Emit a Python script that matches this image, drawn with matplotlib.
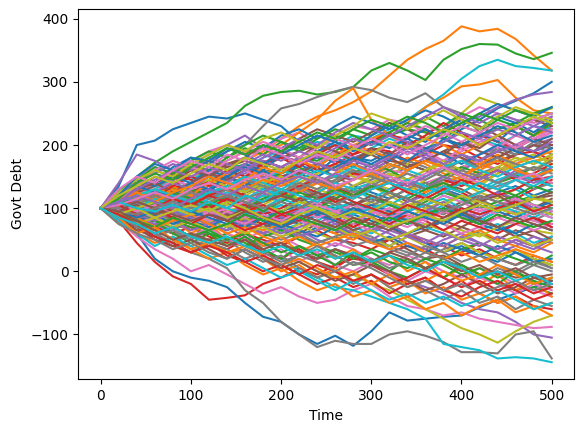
import numpy as np
import matplotlib
matplotlib.use("Agg")
import matplotlib.pyplot as plt

plt.rcParams['font.size'] = 10

times = list(range(0, 501, 20))

paths = [
    [100,135,200,207,225,235,245,242,250,240,230,205,190,200,180,175,190,170,160,175,185,170,180,195,190,200],
    [100,115,130,125,140,150,160,170,175,190,210,230,245,255,268,285,310,335,352,365,388,380,384,368,342,318],
    [100,118,150,172,190,205,220,235,262,278,284,286,280,284,292,318,330,318,303,335,352,360,359,345,336,346],
    [100,80,45,15,-8,-20,-45,-42,-38,-20,-10,5,-5,10,20,15,30,40,35,20,30,45,35,50,40,55],
    [100,140,185,175,160,170,185,200,215,195,180,175,190,170,155,160,150,165,180,170,160,175,190,200,215,230],
    [100,125,130,120,140,150,135,145,160,150,140,155,165,150,145,160,175,170,160,150,165,175,190,180,170,185],
    [100,120,150,165,155,175,190,200,185,195,210,220,200,215,230,225,240,235,220,230,245,260,250,240,235,245],
    [100,110,125,140,150,160,175,190,200,230,258,265,276,285,292,287,275,268,282,260,250,220,205,190,200,185],
    [100,95,105,90,85,100,110,95,90,105,120,110,100,115,130,140,150,170,190,220,250,275,265,255,250,258],
    [100,115,120,135,150,145,160,170,165,180,190,195,205,200,215,210,225,240,260,280,305,325,335,325,322,318],
    [100,85,60,20,0,-10,-15,-25,-50,-72,-80,-100,-115,-102,-118,-95,-65,-78,-75,-72,-70,-57,-45,-35,-25,-15],
    [100,120,140,135,150,165,160,175,190,185,200,220,240,270,290,240,215,200,190,185,180,170,160,165,175,180],
    [100,90,75,65,70,55,50,60,45,30,40,35,20,25,10,15,0,-10,5,15,10,-5,-20,-30,-25,-35],
    [100,110,95,105,120,115,130,140,125,135,150,160,165,185,195,205,215,210,225,210,200,215,205,195,210,200],
    [100,90,80,95,75,65,80,70,55,40,45,30,20,35,25,10,0,-15,-25,-35,-50,-60,-65,-80,-100,-105],
    [100,105,115,100,90,105,95,85,80,90,70,60,75,65,55,45,50,35,20,25,10,-5,0,-10,-5,-15],
    [100,80,55,35,20,0,10,-5,-20,-35,-25,-40,-50,-45,-30,-20,-40,-55,-60,-70,-65,-75,-80,-85,-90,-88],
    [100,85,70,60,45,30,20,5,-30,-50,-80,-100,-120,-110,-115,-115,-100,-95,-102,-112,-128,-128,-130,-100,-95,-138],
    [100,95,80,70,60,55,60,45,40,30,20,15,0,-10,-5,-20,-30,-45,-60,-75,-90,-100,-113,-95,-80,-70],
    [100,95,85,90,75,70,60,55,40,35,20,0,-10,-25,-30,-40,-50,-60,-75,-115,-120,-125,-138,-136,-138,-144],
    [100,110,120,115,130,140,125,135,150,160,155,170,180,175,165,190,200,210,195,205,225,240,258,270,282,300],
    [100,95,110,120,105,115,130,145,160,150,140,155,170,185,200,210,220,235,260,275,293,296,303,275,255,250],
    [100,115,105,125,140,130,145,160,170,155,165,180,175,190,210,200,215,225,220,210,200,215,225,235,240,250],
    [100,90,85,70,60,70,55,45,60,50,40,55,65,50,45,35,50,60,45,40,25,35,20,10,25,15],
    [100,105,95,110,125,115,130,120,135,150,145,160,170,165,180,190,200,195,210,220,235,245,260,272,280,284],
    [100,100,90,80,95,85,75,90,100,85,75,80,70,60,75,85,70,55,65,80,70,60,50,65,55,45],
    [100,110,125,140,130,120,135,145,130,120,135,150,140,125,135,145,160,155,140,150,165,175,160,170,185,195],
    [100,105,95,85,100,110,100,90,105,120,130,125,140,150,135,145,160,175,165,150,140,155,165,150,145,160],
    [100,110,120,130,115,105,120,135,140,125,115,130,120,110,125,135,120,105,115,130,140,125,115,130,145,135],
    [100,90,100,85,95,80,70,85,95,80,65,75,90,80,70,60,75,85,70,60,50,65,75,60,45,55],
    [100,95,85,100,110,95,80,70,85,75,65,55,70,80,65,50,40,55,45,30,40,25,15,30,20,10],
    [100,115,130,120,110,125,140,130,145,160,150,140,155,170,160,150,165,180,170,155,145,160,175,165,150,140],
    [100,105,120,110,100,90,105,115,100,90,80,95,110,100,85,75,90,100,115,105,90,80,95,110,120,105],
    [100,120,130,140,155,145,135,150,165,170,180,175,160,170,185,195,190,175,185,200,195,180,170,185,190,175],
    [100,85,70,75,60,50,65,75,60,45,55,65,50,40,55,70,60,45,35,50,60,45,30,40,55,45],
    [100,110,115,125,135,125,140,150,140,130,145,155,145,130,120,135,125,110,125,140,130,115,125,110,100,115],
    [100,90,95,80,70,85,75,60,50,65,55,40,30,45,35,20,10,25,15,0,-10,5,-5,-20,-30,-40],
    [100,100,110,95,105,120,110,100,115,105,95,110,120,105,95,110,125,115,100,90,105,115,100,90,80,95],
    [100,110,100,115,125,110,100,115,130,140,125,115,130,145,155,140,130,145,160,170,155,145,160,175,185,170],
    [100,95,80,90,100,90,75,65,80,95,105,90,80,95,110,100,85,75,90,105,95,80,70,85,100,90],
    [100,105,115,105,120,130,120,110,125,135,125,115,105,120,135,125,115,130,140,130,120,110,125,135,120,130],
    [100,90,85,95,80,70,80,90,75,65,75,85,70,60,50,65,75,60,50,40,55,65,50,40,30,45],
    [100,115,125,120,130,140,150,140,130,145,155,165,150,140,155,170,160,145,135,150,165,155,140,150,165,160],
    [100,95,100,90,85,95,105,95,85,75,85,95,105,115,105,95,85,95,105,95,85,75,85,95,85,75],
    [100,110,105,115,110,120,130,145,155,170,160,175,185,180,170,160,175,190,180,165,175,185,195,185,200,210],
    [100,90,80,90,100,110,100,90,80,70,80,90,100,95,105,115,105,95,85,95,110,120,110,100,115,120],
    [100,105,120,135,125,140,155,150,165,175,165,155,170,160,150,165,180,195,185,175,190,205,215,200,210,220],
    [100,95,85,75,65,80,90,80,70,60,50,60,45,55,65,55,40,30,20,35,45,30,20,10,20,5],
    [100,105,95,100,110,100,90,95,105,115,125,115,100,90,100,110,95,85,100,110,120,105,95,105,120,110],
    [100,105,110,100,115,130,120,135,145,130,120,135,125,115,130,140,155,145,130,140,150,165,175,160,150,165],
    [100,110,100,95,105,115,125,115,105,95,85,75,90,100,90,80,70,60,70,80,90,75,65,75,85,70],
    [100,95,105,115,105,95,105,120,110,100,115,130,140,125,115,130,145,135,125,140,150,140,155,170,180,190],
    [100,90,80,70,80,70,60,50,40,55,65,50,40,30,20,35,25,15,5,20,35,45,30,20,10,25],
    [100,105,115,125,135,130,120,110,125,140,150,135,125,140,155,150,140,130,120,135,125,110,100,115,130,145],
    [100,95,90,80,95,105,90,80,70,60,70,85,75,90,100,85,95,110,120,105,95,110,125,115,100,90],
    [100,115,125,135,145,160,150,165,175,165,180,190,200,190,175,185,170,160,175,190,180,165,175,185,200,195],
    [100,95,110,120,110,95,85,100,115,105,90,100,110,95,80,90,100,85,75,65,80,95,105,90,80,70],
    [100,110,95,105,95,85,95,105,120,110,125,135,120,110,95,105,115,130,140,130,115,125,135,145,130,140],
    [100,90,95,85,75,85,95,110,100,85,95,105,90,80,70,85,95,105,90,75,65,55,70,80,65,60],
    [100,110,120,105,95,110,125,115,105,120,110,100,115,125,110,95,105,120,135,120,110,125,140,130,115,125],
    [100,120,105,130,115,140,125,150,135,160,145,170,155,180,165,190,175,200,185,210,195,220,205,230,215,240],
    [100,80,95,70,85,60,75,50,65,40,55,30,45,20,35,10,25,0,15,-10,5,-20,-5,-30,-15,-40],
    [100,125,140,160,150,170,160,180,195,185,205,195,215,205,225,215,235,225,245,230,250,240,225,235,250,260],
    [100,85,75,60,70,55,45,35,50,30,20,35,15,5,25,10,-5,-20,-10,-30,-15,-35,-50,-40,-55,-60],
    [100,105,90,110,95,115,100,120,105,125,110,130,115,135,120,140,125,145,130,150,135,155,140,160,145,165],
    [100,110,130,150,140,160,175,165,180,200,190,210,225,215,205,220,235,225,210,225,240,230,215,225,240,230],
    [100,95,75,85,65,55,70,50,40,25,35,15,30,10,0,15,-5,-15,0,-10,-25,-10,-20,-35,-20,-30],
    [100,110,115,105,120,110,125,115,135,125,145,135,150,140,160,150,170,160,175,165,185,175,195,185,205,195],
    [100,90,105,90,80,95,80,70,85,70,60,75,60,50,65,50,40,55,40,30,45,30,20,35,20,10],
    [100,120,110,130,145,135,155,140,125,145,160,150,170,185,175,195,210,200,190,205,220,210,200,215,230,225],
    [100,85,95,105,90,80,70,85,100,90,75,65,55,70,60,45,55,40,30,45,35,25,40,30,15,20],
    [100,115,100,120,135,120,105,125,140,155,140,125,140,155,170,155,140,160,175,165,150,170,185,170,160,175],
    [100,90,70,80,60,45,60,40,55,35,20,40,25,10,30,15,0,20,5,-10,10,-5,-20,0,-15,-25],
    [100,105,125,115,135,150,140,160,150,170,180,165,185,200,185,205,220,200,215,235,220,200,215,230,215,235],
    [100,95,100,110,95,85,100,90,105,95,85,100,90,75,90,105,95,80,95,110,95,85,100,115,100,110],
    [100,110,90,100,85,95,105,90,75,85,70,80,95,80,65,75,90,80,65,55,70,85,70,55,65,50],
    [100,120,135,125,145,135,155,170,160,145,165,180,170,190,180,165,185,200,190,175,195,210,195,215,205,220],
    [100,95,85,95,80,90,75,65,75,60,70,55,45,55,40,50,35,25,40,30,15,25,10,0,15,5],
    [100,105,115,100,110,125,115,105,120,135,125,140,130,120,135,150,140,125,145,160,150,135,155,170,160,180],
    [100,90,80,90,100,85,95,110,100,90,105,95,85,100,110,100,90,75,85,100,90,80,95,105,95,85],
    [100,120,145,135,150,140,160,150,170,160,185,170,190,205,195,215,230,215,205,225,240,225,245,235,220,240],
    [100,80,65,70,50,40,50,30,35,20,0,10,-10,5,-15,-5,-25,-15,-35,-25,-45,-35,-50,-40,-60,-50],
    [100,110,120,105,115,130,120,110,100,115,125,110,100,115,130,120,105,95,110,125,115,100,110,120,105,100],
    [100,100,90,105,95,110,100,115,105,90,100,115,125,110,120,135,125,140,130,145,135,150,160,145,155,170],
    [100,90,85,75,80,65,75,85,70,60,70,55,65,75,60,50,65,55,45,60,50,40,55,45,35,50],
    [100,115,130,140,125,140,155,145,160,175,165,155,170,160,175,190,180,165,175,190,205,190,180,195,210,200],
    [100,95,110,95,100,90,80,95,85,100,90,80,70,85,75,65,80,70,85,75,60,70,85,75,65,75],
    [100,85,70,55,65,50,40,50,30,15,25,5,-10,0,-20,-5,-25,-40,-30,-45,-30,-50,-40,-60,-45,-55],
    [100,105,120,130,120,135,145,135,125,140,150,140,155,165,150,140,155,145,160,175,160,150,165,180,170,185],
    [100,115,105,95,110,100,115,125,115,130,120,110,125,140,130,115,130,145,135,125,140,130,145,155,145,135],
    [100,95,80,90,75,85,95,80,70,85,95,105,90,80,95,105,95,80,90,100,90,105,95,85,100,110],
    [100,110,125,115,130,120,140,155,145,165,155,175,165,185,200,190,180,195,210,200,185,200,215,230,215,225],
    [100,90,95,80,70,55,65,50,60,45,30,40,25,35,20,30,15,5,20,10,-5,5,-10,0,-20,-10],
    [100,105,110,125,115,105,120,130,120,110,120,135,145,135,120,130,140,125,115,130,145,135,120,130,145,150],
    [100,85,90,80,95,85,75,65,80,70,60,70,80,65,55,65,75,60,50,40,55,45,35,50,40,30],
    [100,120,130,140,155,165,150,170,180,170,190,180,200,190,175,195,185,205,195,185,205,195,215,200,190,210],
    [100,100,95,85,95,105,90,100,110,100,90,100,85,95,105,95,85,95,105,120,110,95,105,115,105,95],
    [100,95,105,120,110,125,115,130,115,125,140,130,145,135,125,135,150,140,130,145,160,150,140,155,165,155],
    [100,90,75,85,70,80,65,75,60,70,55,65,80,70,55,65,50,60,75,65,50,60,45,55,40,50],
    [100,110,100,115,105,95,110,100,90,100,115,105,95,105,90,100,110,95,105,115,100,90,105,95,85,100],
    [100,115,135,125,120,140,130,150,165,155,145,160,150,165,180,170,185,175,195,185,170,185,200,190,180,195],
    [100,90,85,70,80,90,75,60,70,55,45,55,40,50,60,45,35,45,30,20,30,15,25,35,25,15],
    [100,105,120,110,125,115,105,120,110,95,110,125,115,130,120,135,125,115,130,140,125,140,130,120,135,125],
    [100,85,90,100,85,75,90,80,65,75,90,80,95,85,70,85,75,90,80,65,80,70,60,75,85,70],
    [100,120,110,125,140,130,150,140,160,175,165,180,170,160,175,165,180,195,185,170,185,175,190,200,190,205],
    [100,95,105,90,100,110,95,85,100,110,120,110,125,115,105,120,110,100,115,105,95,110,120,105,115,125],
    [100,110,95,105,90,80,95,85,75,90,80,95,105,95,80,90,100,90,80,95,85,100,90,80,95,85],
    [100,100,110,100,115,125,115,130,145,135,125,140,130,145,160,150,140,155,145,160,175,165,180,170,160,175],
    [100,90,100,110,100,90,100,85,95,105,95,110,100,90,80,95,110,100,115,105,120,110,100,90,100,90],
    [100,110,120,130,120,110,125,135,150,140,130,145,160,150,165,155,170,160,150,165,175,160,150,165,175,165],
    [100,95,85,95,105,95,85,75,90,80,70,85,95,85,100,90,80,95,85,75,90,80,70,60,75,65],
    [100,115,125,110,125,135,150,140,130,145,135,150,140,130,145,155,170,160,175,165,150,165,175,160,150,160],
    [100,90,80,70,85,75,65,75,90,80,95,85,75,65,80,70,85,75,90,100,85,75,90,80,70,80],
    [100,105,90,100,115,105,120,110,95,105,90,100,115,125,110,100,90,105,95,85,100,90,100,110,95,105],
    [100,110,120,110,100,115,130,120,135,125,140,150,140,155,145,160,145,135,150,165,155,145,160,150,140,150],
    [100,95,110,100,90,80,90,80,95,85,75,90,80,70,85,75,65,80,70,85,95,80,70,85,75,65],
    [100,105,115,125,115,130,140,130,145,155,145,160,150,135,145,160,150,140,155,165,150,140,130,145,155,140],
    [100,95,90,100,110,100,110,120,110,100,110,100,115,105,120,110,125,115,105,95,105,120,110,100,90,100],
    [100,90,100,85,95,105,95,110,100,85,75,90,100,85,95,85,70,80,90,80,95,105,95,105,115,110],
    [100,110,100,95,105,95,110,100,120,110,130,120,110,125,115,130,140,130,120,135,125,140,130,145,135,150],
    [100,125,150,140,165,180,170,190,205,195,215,225,210,230,245,235,225,240,255,245,230,250,265,255,245,260],
    [100,75,60,45,55,35,20,30,10,-5,5,-15,-30,-20,-40,-30,-50,-40,-60,-50,-70,-55,-45,-65,-55,-70],
    [100,130,145,165,155,175,190,180,200,215,205,190,210,225,215,200,220,235,225,210,230,220,240,230,215,235],
    [100,80,70,50,40,30,45,25,15,0,10,-5,-20,-10,-25,-15,-35,-20,-10,-30,-40,-25,-15,-30,-45,-35],
    [100,120,140,155,170,160,180,170,160,180,195,210,200,220,235,225,215,230,245,260,245,235,250,240,230,245],
    [100,85,65,55,40,50,35,20,35,20,5,15,0,-15,-5,10,0,-15,-30,-20,-5,-20,-35,-25,-10,-20],
    [100,115,135,160,175,165,155,175,190,205,195,180,195,210,200,185,200,215,230,220,205,220,210,195,210,225],
    [100,90,70,60,45,60,45,35,20,30,15,25,40,25,10,20,5,15,30,20,5,-10,5,-5,10,0],
    [100,125,145,160,150,170,185,200,190,210,220,205,195,215,230,250,240,225,240,255,240,225,245,260,250,240],
    [100,80,60,40,55,40,25,10,20,5,-10,0,-15,-30,-15,-30,-45,-35,-50,-40,-55,-45,-30,-45,-60,-50],
    [100,120,150,170,160,180,175,195,185,170,185,200,215,205,190,205,195,210,225,210,200,215,230,220,205,215],
    [100,85,60,70,50,35,45,30,40,25,10,20,5,-10,0,-20,-5,-25,-15,0,-15,-5,10,-5,-20,-10],
    [100,115,140,155,145,165,180,195,185,200,190,205,220,210,225,240,230,245,235,220,235,250,240,255,245,235],
    [100,90,75,55,45,30,40,30,15,25,10,-5,10,0,-15,-5,-20,-10,5,-10,-25,-15,-30,-20,-35,-25],
    [100,110,130,145,160,150,165,155,170,185,175,190,180,195,210,200,215,205,190,205,220,210,225,215,230,220],
    [100,95,80,65,50,60,50,40,50,35,45,30,20,35,25,15,30,20,5,15,0,10,-5,5,-10,-5],
    [100,130,150,140,160,175,165,185,175,195,185,170,185,175,195,210,200,185,200,215,230,220,235,225,240,250],
    [100,75,60,50,35,45,30,20,35,20,10,25,15,0,15,5,-10,-25,-15,-30,-20,-35,-25,-15,-30,-20],
    [100,120,135,150,140,155,170,160,180,170,160,175,190,180,195,185,205,195,210,225,215,200,215,230,245,235],
    [100,85,75,60,70,55,45,55,40,30,40,25,35,20,30,15,25,10,0,15,5,-10,0,-15,-5,-20],
]

fig = plt.figure(figsize=(5.83, 4.32), dpi=100)
ax = fig.add_axes([0.134, 0.122, 0.851, 0.858])
for p in paths:
    ax.plot(times, p, lw=1.5)

ax.set_xlim(-25, 525)
ax.set_ylim(-171, 416)
ax.set_xticks([0, 100, 200, 300, 400, 500])
ax.set_yticks([-100, 0, 100, 200, 300, 400])
ax.set_xlabel("Time")
ax.set_ylabel("Govt Debt")
fig.savefig("out.png", dpi=100)
